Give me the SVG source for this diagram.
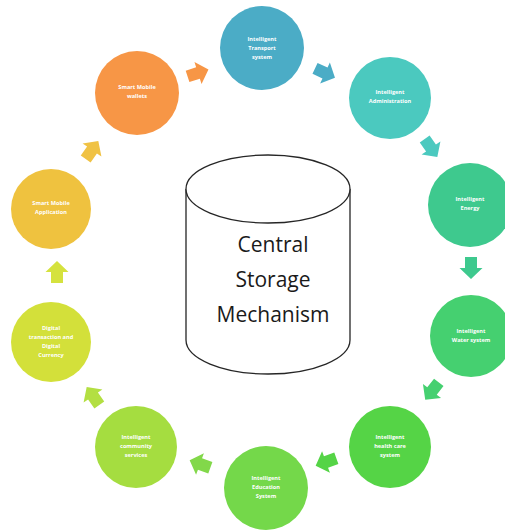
<svg xmlns="http://www.w3.org/2000/svg" width="505" height="530" viewBox="0 0 505 530">
<style>
.lbl{font-family:"Open Sans","Liberation Sans",sans-serif;font-size:5.6px;font-weight:bold;fill:#ffffff;text-anchor:middle}
.big{font-family:"Open Sans","Liberation Sans",sans-serif;font-size:21px;fill:#1a1a1a;text-anchor:middle}
.cyl{fill:#ffffff;stroke:#262626;stroke-width:1.3}
</style>
<defs>
<path id="arr" d="M-11,-6 L0,-6 L0,-11.5 L11,0 L0,11.5 L0,6 L-11,6 Z"/>
</defs>
<rect width="505" height="530" fill="#ffffff"/>
<g id="connectors">
<use href="#arr" fill="#f79646" transform="translate(198,73) rotate(-18)"/>
<use href="#arr" fill="#4bacc6" transform="translate(325,73) rotate(25)"/>
<use href="#arr" fill="#4bc9bf" transform="translate(431,148) rotate(55)"/>
<use href="#arr" fill="#3ec98e" transform="translate(471,268) rotate(90)"/>
<use href="#arr" fill="#45d070" transform="translate(432,391) rotate(128)"/>
<use href="#arr" fill="#55d446" transform="translate(326,462) rotate(160)"/>
<use href="#arr" fill="#82d84a" transform="translate(200,464) rotate(200)"/>
<use href="#arr" fill="#b3df42" transform="translate(93,396) rotate(235)"/>
<use href="#arr" fill="#d5e23e" transform="translate(57,272) rotate(270)"/>
<use href="#arr" fill="#f0c244" transform="translate(92,150) rotate(305)"/>
</g>
<g id="n1"><circle cx="262" cy="48" r="42" fill="#4bacc6"/>
<text class="lbl" x="262" y="41">Intelligent</text><text class="lbl" x="262" y="50">Transport</text><text class="lbl" x="262" y="59">system</text></g>
<g id="n2"><circle cx="390" cy="98" r="41" fill="#4bc9bf"/>
<text class="lbl" x="390" y="94">Intelligent</text><text class="lbl" x="390" y="103">Administration</text></g>
<g id="n3"><circle cx="470" cy="205" r="42" fill="#3ec98e"/>
<text class="lbl" x="470" y="201">Intelligent</text><text class="lbl" x="470" y="210">Energy</text></g>
<g id="n4"><circle cx="471" cy="336" r="41" fill="#45d070"/>
<text class="lbl" x="471" y="333">Intelligent</text><text class="lbl" x="471" y="342">Water system</text></g>
<g id="n5"><circle cx="390" cy="447" r="41" fill="#55d446"/>
<text class="lbl" x="390" y="439">Intelligent</text><text class="lbl" x="390" y="448">health care</text><text class="lbl" x="390" y="457">system</text></g>
<g id="n6"><circle cx="266" cy="488" r="42" fill="#74d84a"/>
<text class="lbl" x="266" y="480">Intelligent</text><text class="lbl" x="266" y="489">Education</text><text class="lbl" x="266" y="498">System</text></g>
<g id="n7"><circle cx="136" cy="447" r="41" fill="#a5dd40"/>
<text class="lbl" x="136" y="439">Intelligent</text><text class="lbl" x="136" y="448">community</text><text class="lbl" x="136" y="457">services</text></g>
<g id="n8"><circle cx="51" cy="342" r="40" fill="#d3e03a"/>
<text class="lbl" x="51" y="330">Digital</text><text class="lbl" x="51" y="339">transaction and</text><text class="lbl" x="51" y="348">Digital</text><text class="lbl" x="51" y="357">Currency</text></g>
<g id="n9"><circle cx="51" cy="209" r="40" fill="#efc23f"/>
<text class="lbl" x="51" y="205">Smart Mobile</text><text class="lbl" x="51" y="214">Application</text></g>
<g id="n10"><circle cx="137" cy="93" r="42" fill="#f79646"/>
<text class="lbl" x="137" y="89">Smart Mobile</text><text class="lbl" x="137" y="98">wallets</text></g>
<g id="storage">
<path class="cyl" d="M186,189 L186,340 A82,34 0 0 0 350,340 L350,189"/>
<ellipse class="cyl" cx="268" cy="189" rx="82" ry="34"/>
<text class="big" x="273" y="252">Central</text>
<text class="big" x="273" y="287">Storage</text>
<text class="big" x="273" y="322">Mechanism</text>
</g>
</svg>
